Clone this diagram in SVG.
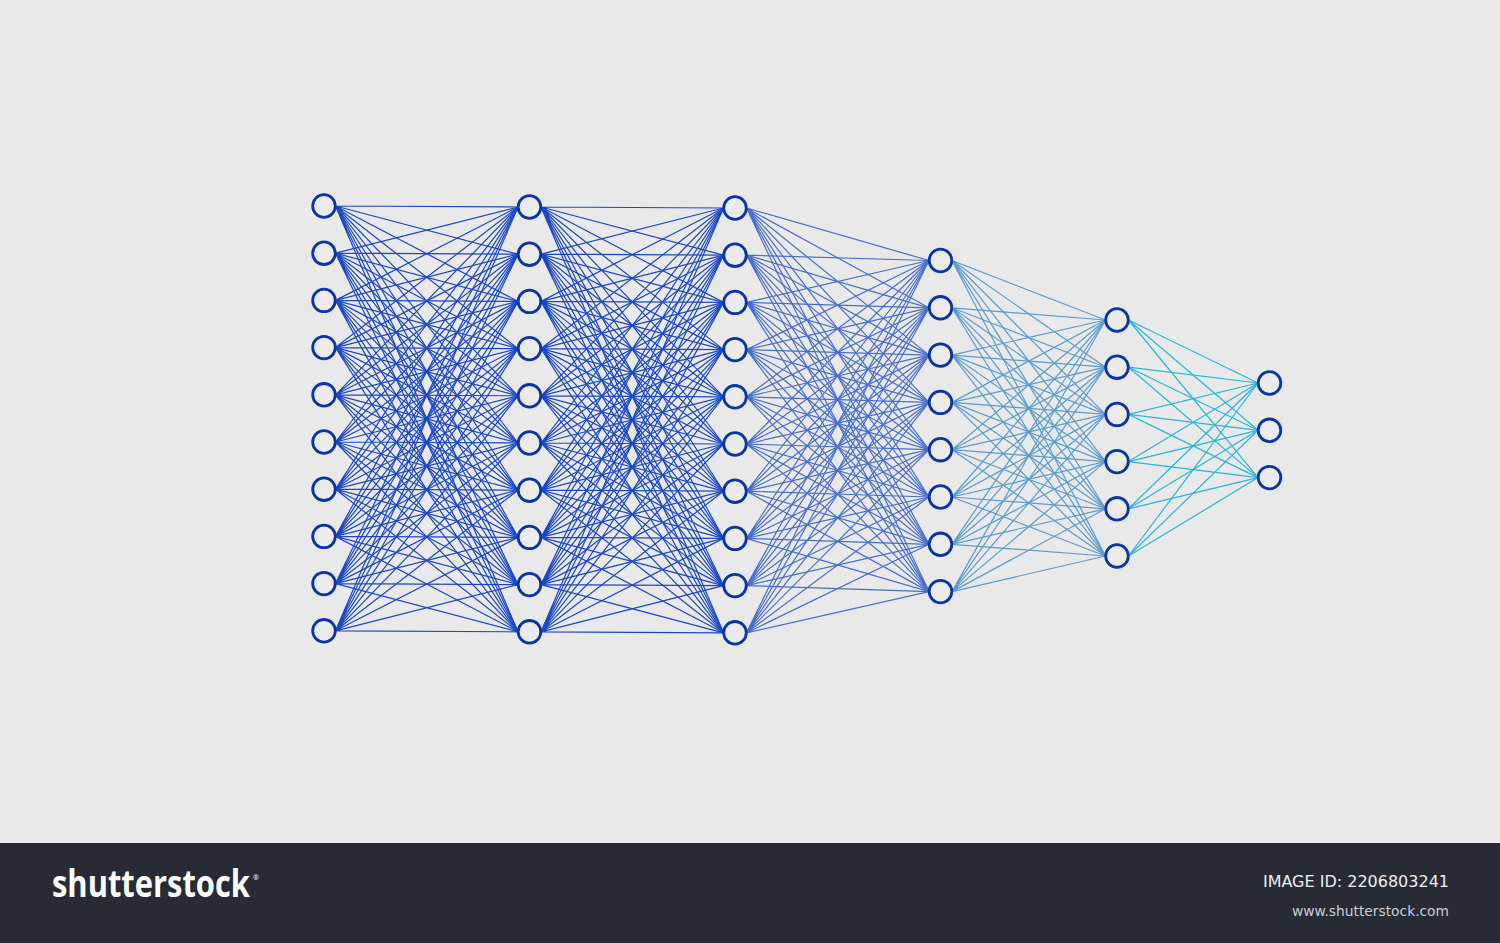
<svg xmlns="http://www.w3.org/2000/svg" width="1500" height="943" viewBox="0 0 1500 943">
<style>
.e{fill:none;stroke-width:1.2;stroke-linejoin:round;stroke-linecap:round}
.c1{stroke:#1c48c4}.c2{stroke:#1c48c4}.c3{stroke:#4a6fca}.c4{stroke:#5c9ccc}.c5{stroke:#2db6d6}
.n{fill:#ebebeb;stroke:#0b35a5;stroke-width:2.8}
</style>
<rect x="0" y="0" width="1500" height="843" fill="#e9e9e9"/>
<rect x="0" y="843" width="1500" height="100" fill="#272b36"/>
<g id="connectors">
<g class="e c1">
<path d="M335.5 206L518 207 335.5 206 518 254.2 335.5 206 518 301.4 335.5 206 518 348.6 335.5 206 518 395.8 335.5 206 518 443 335.5 206 518 490.2 335.5 206 518 537.4 335.5 206 518 584.6 335.5 206 518 631.8"/>
<path d="M335.5 253.2L518 207 335.5 253.2 518 254.2 335.5 253.2 518 301.4 335.5 253.2 518 348.6 335.5 253.2 518 395.8 335.5 253.2 518 443 335.5 253.2 518 490.2 335.5 253.2 518 537.4 335.5 253.2 518 584.6 335.5 253.2 518 631.8"/>
<path d="M335.5 300.4L518 207 335.5 300.4 518 254.2 335.5 300.4 518 301.4 335.5 300.4 518 348.6 335.5 300.4 518 395.8 335.5 300.4 518 443 335.5 300.4 518 490.2 335.5 300.4 518 537.4 335.5 300.4 518 584.6 335.5 300.4 518 631.8"/>
<path d="M335.5 347.6L518 207 335.5 347.6 518 254.2 335.5 347.6 518 301.4 335.5 347.6 518 348.6 335.5 347.6 518 395.8 335.5 347.6 518 443 335.5 347.6 518 490.2 335.5 347.6 518 537.4 335.5 347.6 518 584.6 335.5 347.6 518 631.8"/>
<path d="M335.5 394.8L518 207 335.5 394.8 518 254.2 335.5 394.8 518 301.4 335.5 394.8 518 348.6 335.5 394.8 518 395.8 335.5 394.8 518 443 335.5 394.8 518 490.2 335.5 394.8 518 537.4 335.5 394.8 518 584.6 335.5 394.8 518 631.8"/>
<path d="M335.5 442L518 207 335.5 442 518 254.2 335.5 442 518 301.4 335.5 442 518 348.6 335.5 442 518 395.8 335.5 442 518 443 335.5 442 518 490.2 335.5 442 518 537.4 335.5 442 518 584.6 335.5 442 518 631.8"/>
<path d="M335.5 489.2L518 207 335.5 489.2 518 254.2 335.5 489.2 518 301.4 335.5 489.2 518 348.6 335.5 489.2 518 395.8 335.5 489.2 518 443 335.5 489.2 518 490.2 335.5 489.2 518 537.4 335.5 489.2 518 584.6 335.5 489.2 518 631.8"/>
<path d="M335.5 536.4L518 207 335.5 536.4 518 254.2 335.5 536.4 518 301.4 335.5 536.4 518 348.6 335.5 536.4 518 395.8 335.5 536.4 518 443 335.5 536.4 518 490.2 335.5 536.4 518 537.4 335.5 536.4 518 584.6 335.5 536.4 518 631.8"/>
<path d="M335.5 583.6L518 207 335.5 583.6 518 254.2 335.5 583.6 518 301.4 335.5 583.6 518 348.6 335.5 583.6 518 395.8 335.5 583.6 518 443 335.5 583.6 518 490.2 335.5 583.6 518 537.4 335.5 583.6 518 584.6 335.5 583.6 518 631.8"/>
<path d="M335.5 630.8L518 207 335.5 630.8 518 254.2 335.5 630.8 518 301.4 335.5 630.8 518 348.6 335.5 630.8 518 395.8 335.5 630.8 518 443 335.5 630.8 518 490.2 335.5 630.8 518 537.4 335.5 630.8 518 584.6 335.5 630.8 518 631.8"/>
</g>
<g class="e c2">
<path d="M541 207L723.5 208 541 207 723.5 255.2 541 207 723.5 302.4 541 207 723.5 349.6 541 207 723.5 396.8 541 207 723.5 444 541 207 723.5 491.2 541 207 723.5 538.4 541 207 723.5 585.6 541 207 723.5 632.8"/>
<path d="M541 254.2L723.5 208 541 254.2 723.5 255.2 541 254.2 723.5 302.4 541 254.2 723.5 349.6 541 254.2 723.5 396.8 541 254.2 723.5 444 541 254.2 723.5 491.2 541 254.2 723.5 538.4 541 254.2 723.5 585.6 541 254.2 723.5 632.8"/>
<path d="M541 301.4L723.5 208 541 301.4 723.5 255.2 541 301.4 723.5 302.4 541 301.4 723.5 349.6 541 301.4 723.5 396.8 541 301.4 723.5 444 541 301.4 723.5 491.2 541 301.4 723.5 538.4 541 301.4 723.5 585.6 541 301.4 723.5 632.8"/>
<path d="M541 348.6L723.5 208 541 348.6 723.5 255.2 541 348.6 723.5 302.4 541 348.6 723.5 349.6 541 348.6 723.5 396.8 541 348.6 723.5 444 541 348.6 723.5 491.2 541 348.6 723.5 538.4 541 348.6 723.5 585.6 541 348.6 723.5 632.8"/>
<path d="M541 395.8L723.5 208 541 395.8 723.5 255.2 541 395.8 723.5 302.4 541 395.8 723.5 349.6 541 395.8 723.5 396.8 541 395.8 723.5 444 541 395.8 723.5 491.2 541 395.8 723.5 538.4 541 395.8 723.5 585.6 541 395.8 723.5 632.8"/>
<path d="M541 443L723.5 208 541 443 723.5 255.2 541 443 723.5 302.4 541 443 723.5 349.6 541 443 723.5 396.8 541 443 723.5 444 541 443 723.5 491.2 541 443 723.5 538.4 541 443 723.5 585.6 541 443 723.5 632.8"/>
<path d="M541 490.2L723.5 208 541 490.2 723.5 255.2 541 490.2 723.5 302.4 541 490.2 723.5 349.6 541 490.2 723.5 396.8 541 490.2 723.5 444 541 490.2 723.5 491.2 541 490.2 723.5 538.4 541 490.2 723.5 585.6 541 490.2 723.5 632.8"/>
<path d="M541 537.4L723.5 208 541 537.4 723.5 255.2 541 537.4 723.5 302.4 541 537.4 723.5 349.6 541 537.4 723.5 396.8 541 537.4 723.5 444 541 537.4 723.5 491.2 541 537.4 723.5 538.4 541 537.4 723.5 585.6 541 537.4 723.5 632.8"/>
<path d="M541 584.6L723.5 208 541 584.6 723.5 255.2 541 584.6 723.5 302.4 541 584.6 723.5 349.6 541 584.6 723.5 396.8 541 584.6 723.5 444 541 584.6 723.5 491.2 541 584.6 723.5 538.4 541 584.6 723.5 585.6 541 584.6 723.5 632.8"/>
<path d="M541 631.8L723.5 208 541 631.8 723.5 255.2 541 631.8 723.5 302.4 541 631.8 723.5 349.6 541 631.8 723.5 396.8 541 631.8 723.5 444 541 631.8 723.5 491.2 541 631.8 723.5 538.4 541 631.8 723.5 585.6 541 631.8 723.5 632.8"/>
</g>
<g class="e c3">
<path d="M746.5 208L929 260.5 746.5 208 929 307.8 746.5 208 929 355.1 746.5 208 929 402.4 746.5 208 929 449.7 746.5 208 929 497 746.5 208 929 544.3 746.5 208 929 591.6"/>
<path d="M746.5 255.2L929 260.5 746.5 255.2 929 307.8 746.5 255.2 929 355.1 746.5 255.2 929 402.4 746.5 255.2 929 449.7 746.5 255.2 929 497 746.5 255.2 929 544.3 746.5 255.2 929 591.6"/>
<path d="M746.5 302.4L929 260.5 746.5 302.4 929 307.8 746.5 302.4 929 355.1 746.5 302.4 929 402.4 746.5 302.4 929 449.7 746.5 302.4 929 497 746.5 302.4 929 544.3 746.5 302.4 929 591.6"/>
<path d="M746.5 349.6L929 260.5 746.5 349.6 929 307.8 746.5 349.6 929 355.1 746.5 349.6 929 402.4 746.5 349.6 929 449.7 746.5 349.6 929 497 746.5 349.6 929 544.3 746.5 349.6 929 591.6"/>
<path d="M746.5 396.8L929 260.5 746.5 396.8 929 307.8 746.5 396.8 929 355.1 746.5 396.8 929 402.4 746.5 396.8 929 449.7 746.5 396.8 929 497 746.5 396.8 929 544.3 746.5 396.8 929 591.6"/>
<path d="M746.5 444L929 260.5 746.5 444 929 307.8 746.5 444 929 355.1 746.5 444 929 402.4 746.5 444 929 449.7 746.5 444 929 497 746.5 444 929 544.3 746.5 444 929 591.6"/>
<path d="M746.5 491.2L929 260.5 746.5 491.2 929 307.8 746.5 491.2 929 355.1 746.5 491.2 929 402.4 746.5 491.2 929 449.7 746.5 491.2 929 497 746.5 491.2 929 544.3 746.5 491.2 929 591.6"/>
<path d="M746.5 538.4L929 260.5 746.5 538.4 929 307.8 746.5 538.4 929 355.1 746.5 538.4 929 402.4 746.5 538.4 929 449.7 746.5 538.4 929 497 746.5 538.4 929 544.3 746.5 538.4 929 591.6"/>
<path d="M746.5 585.6L929 260.5 746.5 585.6 929 307.8 746.5 585.6 929 355.1 746.5 585.6 929 402.4 746.5 585.6 929 449.7 746.5 585.6 929 497 746.5 585.6 929 544.3 746.5 585.6 929 591.6"/>
<path d="M746.5 632.8L929 260.5 746.5 632.8 929 307.8 746.5 632.8 929 355.1 746.5 632.8 929 402.4 746.5 632.8 929 449.7 746.5 632.8 929 497 746.5 632.8 929 544.3 746.5 632.8 929 591.6"/>
</g>
<g class="e c4">
<path d="M952 260.5L1105.5 320 952 260.5 1105.5 367.2 952 260.5 1105.5 414.4 952 260.5 1105.5 461.6 952 260.5 1105.5 508.8 952 260.5 1105.5 556"/>
<path d="M952 307.8L1105.5 320 952 307.8 1105.5 367.2 952 307.8 1105.5 414.4 952 307.8 1105.5 461.6 952 307.8 1105.5 508.8 952 307.8 1105.5 556"/>
<path d="M952 355.1L1105.5 320 952 355.1 1105.5 367.2 952 355.1 1105.5 414.4 952 355.1 1105.5 461.6 952 355.1 1105.5 508.8 952 355.1 1105.5 556"/>
<path d="M952 402.4L1105.5 320 952 402.4 1105.5 367.2 952 402.4 1105.5 414.4 952 402.4 1105.5 461.6 952 402.4 1105.5 508.8 952 402.4 1105.5 556"/>
<path d="M952 449.7L1105.5 320 952 449.7 1105.5 367.2 952 449.7 1105.5 414.4 952 449.7 1105.5 461.6 952 449.7 1105.5 508.8 952 449.7 1105.5 556"/>
<path d="M952 497L1105.5 320 952 497 1105.5 367.2 952 497 1105.5 414.4 952 497 1105.5 461.6 952 497 1105.5 508.8 952 497 1105.5 556"/>
<path d="M952 544.3L1105.5 320 952 544.3 1105.5 367.2 952 544.3 1105.5 414.4 952 544.3 1105.5 461.6 952 544.3 1105.5 508.8 952 544.3 1105.5 556"/>
<path d="M952 591.6L1105.5 320 952 591.6 1105.5 367.2 952 591.6 1105.5 414.4 952 591.6 1105.5 461.6 952 591.6 1105.5 508.8 952 591.6 1105.5 556"/>
</g>
<g class="e c5">
<path d="M1128.5 320L1258 383 1128.5 320 1258 430.3 1128.5 320 1258 477.6"/>
<path d="M1128.5 367.2L1258 383 1128.5 367.2 1258 430.3 1128.5 367.2 1258 477.6"/>
<path d="M1128.5 414.4L1258 383 1128.5 414.4 1258 430.3 1128.5 414.4 1258 477.6"/>
<path d="M1128.5 461.6L1258 383 1128.5 461.6 1258 430.3 1128.5 461.6 1258 477.6"/>
<path d="M1128.5 508.8L1258 383 1128.5 508.8 1258 430.3 1128.5 508.8 1258 477.6"/>
<path d="M1128.5 556L1258 383 1128.5 556 1258 430.3 1128.5 556 1258 477.6"/>
</g>
</g>
<g id="layer1" class="n">
<circle cx="324" cy="206" r="11.3"/><circle cx="324" cy="253.2" r="11.3"/><circle cx="324" cy="300.4" r="11.3"/><circle cx="324" cy="347.6" r="11.3"/><circle cx="324" cy="394.8" r="11.3"/><circle cx="324" cy="442" r="11.3"/><circle cx="324" cy="489.2" r="11.3"/><circle cx="324" cy="536.4" r="11.3"/><circle cx="324" cy="583.6" r="11.3"/><circle cx="324" cy="630.8" r="11.3"/>
</g>
<g id="layer2" class="n">
<circle cx="529.5" cy="207" r="11.3"/><circle cx="529.5" cy="254.2" r="11.3"/><circle cx="529.5" cy="301.4" r="11.3"/><circle cx="529.5" cy="348.6" r="11.3"/><circle cx="529.5" cy="395.8" r="11.3"/><circle cx="529.5" cy="443" r="11.3"/><circle cx="529.5" cy="490.2" r="11.3"/><circle cx="529.5" cy="537.4" r="11.3"/><circle cx="529.5" cy="584.6" r="11.3"/><circle cx="529.5" cy="631.8" r="11.3"/>
</g>
<g id="layer3" class="n">
<circle cx="735" cy="208" r="11.3"/><circle cx="735" cy="255.2" r="11.3"/><circle cx="735" cy="302.4" r="11.3"/><circle cx="735" cy="349.6" r="11.3"/><circle cx="735" cy="396.8" r="11.3"/><circle cx="735" cy="444" r="11.3"/><circle cx="735" cy="491.2" r="11.3"/><circle cx="735" cy="538.4" r="11.3"/><circle cx="735" cy="585.6" r="11.3"/><circle cx="735" cy="632.8" r="11.3"/>
</g>
<g id="layer4" class="n">
<circle cx="940.5" cy="260.5" r="11.3"/><circle cx="940.5" cy="307.8" r="11.3"/><circle cx="940.5" cy="355.1" r="11.3"/><circle cx="940.5" cy="402.4" r="11.3"/><circle cx="940.5" cy="449.7" r="11.3"/><circle cx="940.5" cy="497" r="11.3"/><circle cx="940.5" cy="544.3" r="11.3"/><circle cx="940.5" cy="591.6" r="11.3"/>
</g>
<g id="layer5" class="n">
<circle cx="1117" cy="320" r="11.3"/><circle cx="1117" cy="367.2" r="11.3"/><circle cx="1117" cy="414.4" r="11.3"/><circle cx="1117" cy="461.6" r="11.3"/><circle cx="1117" cy="508.8" r="11.3"/><circle cx="1117" cy="556" r="11.3"/>
</g>
<g id="layer6" class="n">
<circle cx="1269.5" cy="383" r="11.3"/><circle cx="1269.5" cy="430.3" r="11.3"/><circle cx="1269.5" cy="477.6" r="11.3"/>
</g>
<g id="footer">
<text x="52" y="897" font-family="'Open Sans','Liberation Sans',sans-serif" font-weight="bold" font-size="38" fill="#ffffff"><tspan textLength="198" lengthAdjust="spacingAndGlyphs">shutterstock</tspan><tspan dx="3" dy="-17" font-size="7" font-weight="normal">®</tspan></text>
<text x="1449" y="887" text-anchor="end" font-family="'DejaVu Sans',sans-serif" font-size="16" fill="#eceef2">IMAGE ID: 2206803241</text>
<text x="1449" y="916" text-anchor="end" font-family="'DejaVu Sans',sans-serif" font-size="13.8" fill="#c9cdd5">www.shutterstock.com</text>
</g>
</svg>
